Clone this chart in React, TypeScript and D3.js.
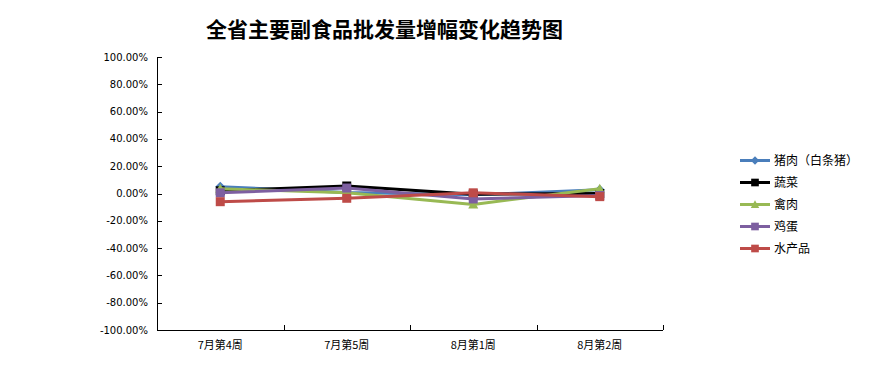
import React from "react";
import * as d3 from "d3";

const categories = ["7月第4周", "7月第5周", "8月第1周", "8月第2周"];
const yTicks = [100, 80, 60, 40, 20, 0, -20, -40, -60, -80, -100];
const seriesNames = ["猪肉（白条猪）", "蔬菜", "禽肉", "鸡蛋", "水产品"];
const porkValues = [5.0, 0.8, -1.0, 2.8];
const vegValues = [2.0, 5.5, -0.5, 0.0];
const poultryValues = [3.5, 0.5, -8.0, 3.5];
const eggValues = [0.5, 4.0, -4.0, -1.5];
const aquaValues = [-6.0, -3.5, 0.5, -2.3];
const seriesColors = ["#4a7ebb", "#000000", "#98b954", "#7d5fa0", "#be4b48"];
const seriesMarkers = ["diamond", "square", "triangle", "square", "square"];

export default function App() {
  const W = 880, H = 367;
  const left = 157, right = 663, top = 57, bottom = 330;
  const y = d3.scaleLinear().domain([-100, 100]).range([bottom, top]);
  const x = d3.scaleBand().domain(categories).range([left, right]);
  const cx = (c: string) => (x(c) as number) + x.bandwidth() / 2;
  const all = [porkValues, vegValues, poultryValues, eggValues, aquaValues];
  const line = d3.line<[number, number]>().x(d => d[0]).y(d => d[1]);

  const marker = (type: string, px: number, py: number, color: string, key: string, small = false) => {
    const k = small ? 0.85 : 1;
    if (type === "diamond") {
      const s = 5 * k;
      return <path key={key} d={`M${px},${py - s}L${px + s},${py}L${px},${py + s}L${px - s},${py}Z`} fill={color} />;
    }
    if (type === "triangle") {
      const s = 5 * k;
      return <path key={key} d={`M${px},${py - s}L${px + s},${py + s * 0.8}L${px - s},${py + s * 0.8}Z`} fill={color} />;
    }
    const h = 4.5 * k;
    return <rect key={key} x={px - h} y={py - h} width={2 * h} height={2 * h} fill={color} />;
  };

  const legendY = [160.5, 182.5, 204.5, 226.5, 248.5];

  return (
    <svg width={W} height={H} style={{ position: "absolute", left: 0, top: 0, background: "#fff" }}>
      <text x={384.5} y={37} textAnchor="middle" fontFamily="'Noto Sans CJK SC'" fontWeight="bold" fontSize={21} fill="#000">
        全省主要副食品批发量增幅变化趋势图
      </text>
      {/* y axis */}
      <line x1={left + 0.5} x2={left + 0.5} y1={top} y2={bottom} stroke="#000" strokeWidth={1} />
      {yTicks.map(t => (
        <g key={t}>
          <line x1={left} x2={left + 5} y1={Math.round(y(t)) + 0.5} y2={Math.round(y(t)) + 0.5} stroke="#000" />
          <text x={148} y={y(t) + 3.5} textAnchor="end" fontFamily="'DejaVu Sans'" fontSize={10} fill="#000">
            {t.toFixed(2)}%
          </text>
        </g>
      ))}
      {/* x axis */}
      <line x1={left} x2={right} y1={bottom + 0.5} y2={bottom + 0.5} stroke="#000" />
      {[...categories.map(c => x(c) as number), right].map((tx, i) => (
        <line key={i} x1={Math.round(tx) + 0.5} x2={Math.round(tx) + 0.5} y1={bottom - 5} y2={bottom} stroke="#000" />
      ))}
      {categories.map(c => (
        <text key={c} x={cx(c)} y={349} textAnchor="middle" fontFamily="'Noto Sans CJK SC'" fontSize={11} fill="#000">
          {c}
        </text>
      ))}
      {/* series */}
      {all.map((vals, si) => (
        <g key={si}>
          <path d={line(vals.map((v, i) => [cx(categories[i]), y(v)]) as [number, number][]) || ""}
            fill="none" stroke={seriesColors[si]} strokeWidth={3} strokeLinejoin="round" />
          {vals.map((v, i) => marker(seriesMarkers[si], cx(categories[i]), y(v), seriesColors[si], `${si}-${i}`))}
        </g>
      ))}
      {/* legend */}
      {seriesNames.map((n, i) => (
        <g key={n}>
          <line x1={740} x2={770} y1={legendY[i]} y2={legendY[i]} stroke={seriesColors[i]} strokeWidth={3} />
          {marker(seriesMarkers[i], 755, legendY[i], seriesColors[i], `l${i}`, true)}
          <text x={774} y={legendY[i] + 4.5} fontFamily="'Noto Sans CJK SC'" fontSize={12} fill="#000">{n}</text>
        </g>
      ))}
    </svg>
  );
}
